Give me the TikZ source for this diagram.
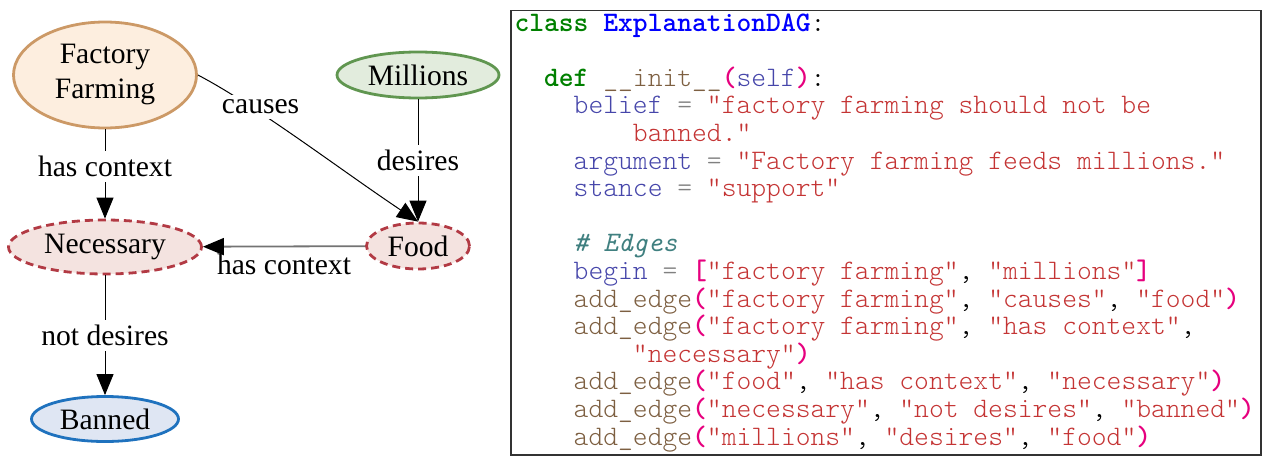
\documentclass[tikz,border=0pt]{standalone}
\usepackage{fontspec}
\setmainfont{Liberation Serif}
\usetikzlibrary{positioning,arrows.meta,shapes.geometric}
\definecolor{srcdraw}{RGB}{204,153,102}
\definecolor{srcfill}{RGB}{253,238,223}
\definecolor{begdraw}{RGB}{96,150,80}
\definecolor{begfill}{RGB}{226,236,221}
\definecolor{ctxdraw}{RGB}{178,58,68}
\definecolor{ctxfill}{RGB}{244,227,224}
\definecolor{enddraw}{RGB}{31,114,190}
\definecolor{endfill}{RGB}{223,230,243}
\definecolor{kwgreen}{RGB}{0,128,0}
\definecolor{clsblue}{RGB}{0,0,255}
\definecolor{idblue}{RGB}{70,70,170}
\definecolor{fnbrown}{RGB}{125,95,65}
\definecolor{strred}{RGB}{196,52,52}
\definecolor{pnpink}{RGB}{230,0,126}
\definecolor{cmteal}{RGB}{64,128,128}
\definecolor{eqgray}{RGB}{128,128,128}
\newcommand{\ckw}[1]{{\color{kwgreen}\bfseries #1}}
\newcommand{\ccls}[1]{{\color{clsblue}\bfseries #1}}
\newcommand{\cid}[1]{{\color{idblue}#1}}
\newcommand{\cfn}[1]{{\color{fnbrown}#1}}
\newcommand{\cstr}[1]{{\color{strred}#1}}
\newcommand{\cpn}[1]{{\color{pnpink}\bfseries #1}}
\newcommand{\ccm}[1]{{\color{cmteal}\mdseries\itshape #1}}
\newcommand{\ceq}{{\color{eqgray}=}}
\newcommand{\ind}[1]{\hspace*{#1\dimexpr0.525em\relax}}
\tikzset{
	dag/.style={x=0.5pt,y=-0.5pt,>={Triangle[length=10.5pt,width=8.5pt]},
		line width=0.5pt,font=\fontsize{14.8}{17.5}\selectfont},
	concept/.style={ellipse,draw,line width=1.4pt,inner sep=0pt},
	source/.style={concept,draw=srcdraw,fill=srcfill},
	start/.style={concept,draw=begdraw,fill=begfill},
	context/.style={concept,draw=ctxdraw,fill=ctxfill,dash pattern=on 4pt off 2.5pt},
	target/.style={concept,draw=enddraw,fill=endfill},
	relation/.style={fill=white,inner sep=2.5pt},
	grayedge/.style={draw=black!55,line width=0.9pt,-{Triangle[length=10.5pt,width=8.5pt,color=black]}},
	codeframe/.style={draw=black!80,line width=0.75pt,inner sep=0pt},
	codetext/.style={align=left,inner sep=0pt,
		font=\ttfamily\fontseries{l}\fontsize{14.1}{13.8}\selectfont}
}

\begin{document}
\begin{tikzpicture}[dag]
	\useasboundingbox (0,0) rectangle (1272,465);
	
	\node[source, minimum width=91.5pt, minimum height=53pt, align=center] (ff) at (105,75) {Factory\\Farming};
	\node[start, minimum width=81pt, minimum height=23pt] (mil) at (418,75) {Millions};
	\node[context, minimum width=96.5pt, minimum height=27pt] (nec) at (105,247) {Necessary};
	\node[context, minimum width=51.5pt, minimum height=23pt] (food) at (418,246) {Food};
	\node[target, minimum width=73.5pt, minimum height=22.5pt] (ban) at (105,419) {Banned};
	
	\path[->] (ff) edge node[relation, pos=0.42] {has context} (nec);
	\path[->] (mil) edge node[relation] {desires} (food);
	\path[->] (nec) edge node[relation] {not desires} (ban);
	\draw[grayedge] (food) -- node[below] {has context} (nec);
	\draw[->] (ff.east) .. controls (257,106) and (338,168) .. node[relation, pos=0.32, yshift=3pt] {causes} (food.north);
	
	\node[codeframe, minimum width=375pt, minimum height=222pt, anchor=north west] (frame) at (510,10) {};
	\node[codetext, anchor=north west] (code) at ([xshift=2pt, yshift=-1.5pt]frame.north west) {%
		\ckw{class} \ccls{ExplanationDAG}:\\
		\mbox{}\\
		\ind{2}\ckw{def} \cfn{\_\_init\_\_}\cpn{(}\cid{self}\cpn{)}:\\
		\ind{4}\cid{belief} \ceq{} \cstr{"factory farming should not be}\\
		\ind{8}\cstr{banned."}\\
		\ind{4}\cid{argument} \ceq{} \cstr{"Factory farming feeds millions."}\\
		\ind{4}\cid{stance} \ceq{} \cstr{"support"}\\
		\mbox{}\\
		\ind{4}\ccm{\# Edges}\\
		\ind{4}\cid{begin} \ceq{} \cpn{[}\cstr{"factory farming"}, \cstr{"millions"}\cpn{]}\\
		\ind{4}\cfn{add\_edge}\cpn{(}\cstr{"factory farming"}, \cstr{"causes"}, \cstr{"food"}\cpn{)}\\
		\ind{4}\cfn{add\_edge}\cpn{(}\cstr{"factory farming"}, \cstr{"has context"},\\
		\ind{8}\cstr{"necessary"}\cpn{)}\\
		\ind{4}\cfn{add\_edge}\cpn{(}\cstr{"food"}, \cstr{"has context"}, \cstr{"necessary"}\cpn{)}\\
		\ind{4}\cfn{add\_edge}\cpn{(}\cstr{"necessary"}, \cstr{"not desires"}, \cstr{"banned"}\cpn{)}\\
		\ind{4}\cfn{add\_edge}\cpn{(}\cstr{"millions"}, \cstr{"desires"}, \cstr{"food"}\cpn{)}};
	
\end{tikzpicture}
\end{document}
